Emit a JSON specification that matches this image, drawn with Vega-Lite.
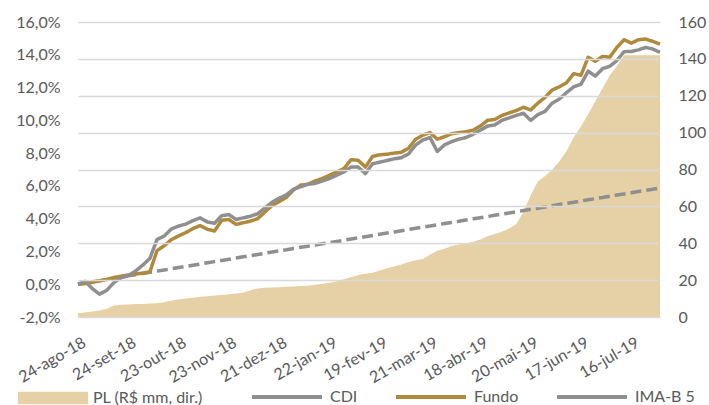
{
  "$schema": "https://vega.github.io/schema/vega-lite/v6.json",
  "width": 582,
  "height": 295,
  "autosize": {"type": "none"},
  "padding": {"left": 78, "top": 22, "right": 49, "bottom": 88},
  "background": "white",
  "data": {"values": [
    {"data": "24-ago-18", "pl": 2.0, "CDI": 0.00, "Fundo": 0.00, "IMA-B 5": 0.00},
    {"data": "29-ago-18", "pl": 2.5, "CDI": 0.07, "Fundo": 0.04, "IMA-B 5": 0.18},
    {"data": "3-set-18", "pl": 3.0, "CDI": 0.15, "Fundo": 0.12, "IMA-B 5": -0.27},
    {"data": "6-set-18", "pl": 3.5, "CDI": 0.22, "Fundo": 0.20, "IMA-B 5": -0.61},
    {"data": "11-set-18", "pl": 4.5, "CDI": 0.29, "Fundo": 0.29, "IMA-B 5": -0.37},
    {"data": "14-set-18", "pl": 6.3, "CDI": 0.36, "Fundo": 0.41, "IMA-B 5": 0.10},
    {"data": "19-set-18", "pl": 6.6, "CDI": 0.44, "Fundo": 0.49, "IMA-B 5": 0.39},
    {"data": "24-set-18", "pl": 6.8, "CDI": 0.51, "Fundo": 0.57, "IMA-B 5": 0.53},
    {"data": "27-set-18", "pl": 7.0, "CDI": 0.58, "Fundo": 0.62, "IMA-B 5": 0.80},
    {"data": "2-out-18", "pl": 7.1, "CDI": 0.65, "Fundo": 0.68, "IMA-B 5": 1.16},
    {"data": "5-out-18", "pl": 7.3, "CDI": 0.73, "Fundo": 0.75, "IMA-B 5": 1.57},
    {"data": "10-out-18", "pl": 7.5, "CDI": 0.80, "Fundo": 2.05, "IMA-B 5": 2.73},
    {"data": "15-out-18", "pl": 8.0, "CDI": 0.87, "Fundo": 2.35, "IMA-B 5": 2.94},
    {"data": "18-out-18", "pl": 9.0, "CDI": 0.94, "Fundo": 2.72, "IMA-B 5": 3.37},
    {"data": "23-out-18", "pl": 9.5, "CDI": 1.02, "Fundo": 2.95, "IMA-B 5": 3.55},
    {"data": "26-out-18", "pl": 10.0, "CDI": 1.09, "Fundo": 3.15, "IMA-B 5": 3.67},
    {"data": "31-out-18", "pl": 10.5, "CDI": 1.16, "Fundo": 3.40, "IMA-B 5": 3.88},
    {"data": "6-nov-18", "pl": 11.0, "CDI": 1.23, "Fundo": 3.58, "IMA-B 5": 4.05},
    {"data": "9-nov-18", "pl": 11.3, "CDI": 1.31, "Fundo": 3.35, "IMA-B 5": 3.80},
    {"data": "14-nov-18", "pl": 11.6, "CDI": 1.38, "Fundo": 3.25, "IMA-B 5": 3.72},
    {"data": "20-nov-18", "pl": 12.0, "CDI": 1.45, "Fundo": 3.90, "IMA-B 5": 4.18},
    {"data": "23-nov-18", "pl": 12.4, "CDI": 1.52, "Fundo": 3.95, "IMA-B 5": 4.25},
    {"data": "28-nov-18", "pl": 12.8, "CDI": 1.60, "Fundo": 3.65, "IMA-B 5": 3.95},
    {"data": "3-dez-18", "pl": 13.2, "CDI": 1.67, "Fundo": 3.75, "IMA-B 5": 4.05},
    {"data": "6-dez-18", "pl": 14.5, "CDI": 1.74, "Fundo": 3.85, "IMA-B 5": 4.15},
    {"data": "11-dez-18", "pl": 15.5, "CDI": 1.81, "Fundo": 4.00, "IMA-B 5": 4.30},
    {"data": "14-dez-18", "pl": 15.8, "CDI": 1.89, "Fundo": 4.40, "IMA-B 5": 4.65},
    {"data": "18-dez-18", "pl": 16.0, "CDI": 1.96, "Fundo": 4.80, "IMA-B 5": 5.00},
    {"data": "21-dez-18", "pl": 16.2, "CDI": 2.03, "Fundo": 5.05, "IMA-B 5": 5.25},
    {"data": "27-dez-18", "pl": 16.4, "CDI": 2.10, "Fundo": 5.30, "IMA-B 5": 5.45},
    {"data": "2-jan-19", "pl": 16.6, "CDI": 2.18, "Fundo": 5.75, "IMA-B 5": 5.80},
    {"data": "7-jan-19", "pl": 16.8, "CDI": 2.25, "Fundo": 6.05, "IMA-B 5": 5.95},
    {"data": "10-jan-19", "pl": 17.0, "CDI": 2.32, "Fundo": 6.10, "IMA-B 5": 6.10},
    {"data": "15-jan-19", "pl": 17.5, "CDI": 2.39, "Fundo": 6.30, "IMA-B 5": 6.15},
    {"data": "18-jan-19", "pl": 18.0, "CDI": 2.47, "Fundo": 6.45, "IMA-B 5": 6.30},
    {"data": "22-jan-19", "pl": 18.6, "CDI": 2.54, "Fundo": 6.65, "IMA-B 5": 6.45},
    {"data": "25-jan-19", "pl": 19.2, "CDI": 2.61, "Fundo": 6.85, "IMA-B 5": 6.65},
    {"data": "30-jan-19", "pl": 20.5, "CDI": 2.68, "Fundo": 7.05, "IMA-B 5": 6.85},
    {"data": "4-fev-19", "pl": 21.5, "CDI": 2.76, "Fundo": 7.60, "IMA-B 5": 7.15},
    {"data": "7-fev-19", "pl": 22.8, "CDI": 2.83, "Fundo": 7.56, "IMA-B 5": 7.15},
    {"data": "12-fev-19", "pl": 23.4, "CDI": 2.90, "Fundo": 7.15, "IMA-B 5": 6.75},
    {"data": "15-fev-19", "pl": 24.0, "CDI": 2.97, "Fundo": 7.80, "IMA-B 5": 7.35},
    {"data": "19-fev-19", "pl": 25.2, "CDI": 3.05, "Fundo": 7.90, "IMA-B 5": 7.45},
    {"data": "22-fev-19", "pl": 26.4, "CDI": 3.12, "Fundo": 7.93, "IMA-B 5": 7.55},
    {"data": "27-fev-19", "pl": 27.4, "CDI": 3.19, "Fundo": 8.00, "IMA-B 5": 7.65},
    {"data": "6-mar-19", "pl": 28.5, "CDI": 3.26, "Fundo": 8.05, "IMA-B 5": 7.72},
    {"data": "11-mar-19", "pl": 29.8, "CDI": 3.34, "Fundo": 8.30, "IMA-B 5": 7.95},
    {"data": "14-mar-19", "pl": 30.8, "CDI": 3.41, "Fundo": 8.85, "IMA-B 5": 8.50},
    {"data": "18-mar-19", "pl": 31.5, "CDI": 3.48, "Fundo": 9.10, "IMA-B 5": 8.80},
    {"data": "21-mar-19", "pl": 33.8, "CDI": 3.55, "Fundo": 9.25, "IMA-B 5": 8.95},
    {"data": "26-mar-19", "pl": 36.0, "CDI": 3.63, "Fundo": 8.85, "IMA-B 5": 8.10},
    {"data": "29-mar-19", "pl": 37.0, "CDI": 3.70, "Fundo": 9.00, "IMA-B 5": 8.50},
    {"data": "3-abr-19", "pl": 38.5, "CDI": 3.77, "Fundo": 9.18, "IMA-B 5": 8.70},
    {"data": "8-abr-19", "pl": 39.3, "CDI": 3.84, "Fundo": 9.25, "IMA-B 5": 8.85},
    {"data": "11-abr-19", "pl": 40.0, "CDI": 3.92, "Fundo": 9.30, "IMA-B 5": 8.95},
    {"data": "15-abr-19", "pl": 40.8, "CDI": 3.99, "Fundo": 9.40, "IMA-B 5": 9.15},
    {"data": "18-abr-19", "pl": 42.0, "CDI": 4.06, "Fundo": 9.65, "IMA-B 5": 9.40},
    {"data": "24-abr-19", "pl": 43.8, "CDI": 4.13, "Fundo": 10.00, "IMA-B 5": 9.65},
    {"data": "29-abr-19", "pl": 45.0, "CDI": 4.21, "Fundo": 10.05, "IMA-B 5": 9.72},
    {"data": "3-mai-19", "pl": 46.3, "CDI": 4.28, "Fundo": 10.30, "IMA-B 5": 10.00},
    {"data": "8-mai-19", "pl": 48.0, "CDI": 4.35, "Fundo": 10.45, "IMA-B 5": 10.15},
    {"data": "13-mai-19", "pl": 50.5, "CDI": 4.42, "Fundo": 10.60, "IMA-B 5": 10.30},
    {"data": "16-mai-19", "pl": 57.0, "CDI": 4.50, "Fundo": 10.80, "IMA-B 5": 10.43},
    {"data": "20-mai-19", "pl": 66.0, "CDI": 4.57, "Fundo": 10.63, "IMA-B 5": 10.00},
    {"data": "23-mai-19", "pl": 73.5, "CDI": 4.64, "Fundo": 11.05, "IMA-B 5": 10.35},
    {"data": "28-mai-19", "pl": 76.5, "CDI": 4.71, "Fundo": 11.40, "IMA-B 5": 10.55},
    {"data": "31-mai-19", "pl": 80.0, "CDI": 4.79, "Fundo": 11.85, "IMA-B 5": 11.05},
    {"data": "5-jun-19", "pl": 84.5, "CDI": 4.86, "Fundo": 12.05, "IMA-B 5": 11.30},
    {"data": "10-jun-19", "pl": 90.0, "CDI": 4.93, "Fundo": 12.30, "IMA-B 5": 11.70},
    {"data": "13-jun-19", "pl": 97.5, "CDI": 5.00, "Fundo": 12.85, "IMA-B 5": 12.05},
    {"data": "17-jun-19", "pl": 103.5, "CDI": 5.08, "Fundo": 12.75, "IMA-B 5": 12.20},
    {"data": "21-jun-19", "pl": 110.0, "CDI": 5.15, "Fundo": 13.85, "IMA-B 5": 13.00},
    {"data": "26-jun-19", "pl": 117.0, "CDI": 5.22, "Fundo": 13.60, "IMA-B 5": 12.70},
    {"data": "1-jul-19", "pl": 124.0, "CDI": 5.29, "Fundo": 13.90, "IMA-B 5": 13.15},
    {"data": "4-jul-19", "pl": 131.0, "CDI": 5.37, "Fundo": 13.85, "IMA-B 5": 13.30},
    {"data": "9-jul-19", "pl": 136.0, "CDI": 5.44, "Fundo": 14.45, "IMA-B 5": 13.65},
    {"data": "12-jul-19", "pl": 142.0, "CDI": 5.51, "Fundo": 14.92, "IMA-B 5": 14.19},
    {"data": "16-jul-19", "pl": 142.0, "CDI": 5.58, "Fundo": 14.71, "IMA-B 5": 14.20},
    {"data": "19-jul-19", "pl": 142.0, "CDI": 5.66, "Fundo": 14.92, "IMA-B 5": 14.30},
    {"data": "24-jul-19", "pl": 142.0, "CDI": 5.73, "Fundo": 14.96, "IMA-B 5": 14.45},
    {"data": "29-jul-19", "pl": 142.0, "CDI": 5.80, "Fundo": 14.82, "IMA-B 5": 14.35},
    {"data": "1-ago-19", "pl": 142.0, "CDI": 5.87, "Fundo": 14.65, "IMA-B 5": 14.15}
  ]},
  "layer": [
    {
      "mark": {"type": "area", "opacity": 1},
      "encoding": {
        "x": {"field": "data", "type": "ordinal", "sort": null, "title": null,
          "scale": {"type": "point", "padding": 0},
          "axis": {"orient": "bottom", "values": ["24-ago-18", "24-set-18", "23-out-18", "23-nov-18", "21-dez-18", "22-jan-19", "19-fev-19", "21-mar-19", "18-abr-19", "20-mai-19", "17-jun-19", "16-jul-19"], "labelAngle": -30, "labelPadding": 17, "labelOffset": 2, "domain": false, "ticks": false, "grid": false, "title": null}},
        "y": {"field": "pl", "type": "quantitative", "scale": {"domain": [0, 160], "nice": false, "zero": true},
          "axis": {"orient": "right", "values": [0, 20, 40, 60, 80, 100, 120, 140, 160], "format": "d", "title": null, "domain": false, "ticks": false, "grid": true, "gridColor": "#D9D9D9", "gridWidth": 1.5, "zindex": 1, "labelPadding": 18}},
        "color": {"datum": "PL (R$ mm, dir.)", "type": "nominal",
          "scale": {"domain": ["PL (R$ mm, dir.)"], "range": ["#E6D0A5"]},
          "legend": {"orient": "none", "legendX": -61, "legendY": 368, "direction": "horizontal", "title": null,
            "symbolSize": 196, "symbolType": "M-1,-0.9L9,-0.9L9,0.9L-1,0.9Z", "symbolStrokeWidth": 0, "symbolOpacity": 1,
            "labelOffset": 60, "padding": 0}}
      }
    },
    {
      "transform": [{"fold": ["CDI", "Fundo", "IMA-B 5"], "as": ["serie", "valor"]}],
      "mark": {"type": "line", "strokeWidth": 3.5, "strokeJoin": "round"},
      "encoding": {
        "x": {"field": "data", "type": "ordinal", "sort": null, "title": null,
          "scale": {"type": "point", "padding": 0},
          "axis": {"orient": "bottom", "values": ["24-ago-18", "24-set-18", "23-out-18", "23-nov-18", "21-dez-18", "22-jan-19", "19-fev-19", "21-mar-19", "18-abr-19", "20-mai-19", "17-jun-19", "16-jul-19"], "labelAngle": -30, "labelPadding": 17, "labelOffset": 2, "domain": false, "ticks": false, "grid": false, "title": null}},
        "y": {"field": "valor", "type": "quantitative", "scale": {"domain": [-2, 16], "nice": false, "zero": false},
          "axis": {"orient": "left", "values": [-2, 0, 2, 4, 6, 8, 10, 12, 14, 16], "labelExpr": "replace(replace(format(datum.value, '.1f'), '.', ','), '\u2212', '-') + '%'", "title": null, "domain": false, "ticks": false, "grid": false, "labelPadding": 18}},
        "color": {"field": "serie", "type": "nominal",
          "scale": {"domain": ["CDI", "Fundo", "IMA-B 5"], "range": ["#8F8F8F", "#B08A3C", "#8F8F8F"]},
          "legend": {"orient": "none", "legendX": 172, "legendY": 366, "direction": "horizontal", "title": null,
            "symbolSize": 196, "symbolType": "M-1,0L9,0", "symbolStrokeWidth": 4, "symbolOpacity": 1,
            "labelOffset": 62, "columnPadding": 30, "padding": 0}},
        "strokeDash": {"field": "serie", "type": "nominal",
          "scale": {"domain": ["CDI", "Fundo", "IMA-B 5"], "range": [[11, 5], [1, 0], [1, 0]]},
          "legend": null}
      }
    }
  ],
  "resolve": {"scale": {"y": "independent", "color": "independent"}},
  "config": {
    "view": {"stroke": null},
    "axis": {"labelFont": "Lato", "labelFontSize": 16, "labelColor": "#595959"},
    "legend": {"labelFont": "Lato", "labelFontSize": 16, "labelColor": "#595959"}
  }
}
